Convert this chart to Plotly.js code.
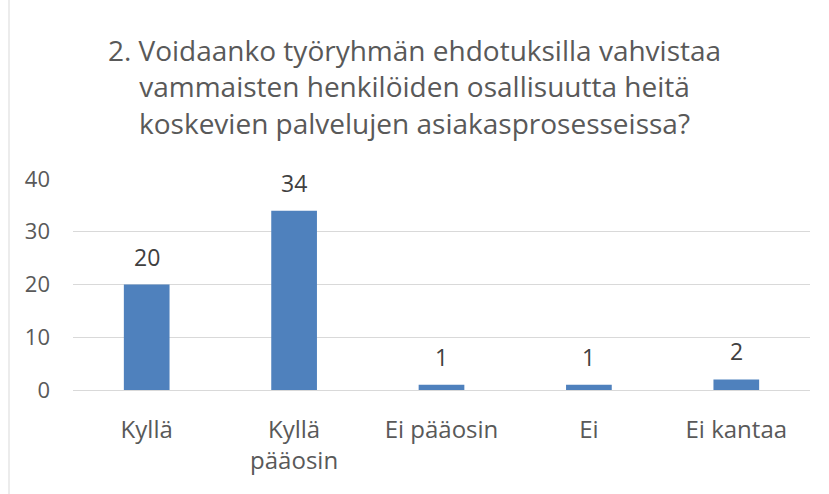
<!DOCTYPE html>
<html><head><meta charset="utf-8">
<script src="https://cdn.plot.ly/plotly-3.0.1.min.js"></script>
<style>html,body{margin:0;padding:0;background:#fff}#c{width:829px;height:494px}</style>
</head><body><div id="c"></div>
<script>
const categories = ["Kyllä", "Kyllä<br>pääosin", "Ei pääosin", "Ei", "Ei kantaa"];
const values = [20, 34, 1, 1, 2];
const yTicks = [0, 10, 20, 30, 40];
const titleText = "2. Voidaanko työryhmän ehdotuksilla vahvistaa<br>vammaisten henkilöiden osallisuutta heitä<br>koskevien palvelujen asiakasprosesseissa?";

const font = "'Open Sans', sans-serif";
const L = 73, R = 19, T = 179, B = 104, W = 829, H = 494;
const pw = W - L - R;
const ph = H - T - B;

const labels = categories.map((c, i) => ({
  x: c, y: values[i], xref: 'x', yref: 'y', text: String(values[i]),
  showarrow: false, yanchor: 'middle', yshift: 28,
  font: {family: font, size: 23, color: '#404040'}
}));

Plotly.newPlot('c', [{
  type: 'bar',
  x: categories,
  y: values,
  marker: {color: '#4f81bd'},
  hoverinfo: 'none'
}], {
  width: W, height: H,
  margin: {l: L, r: R, t: T, b: B, pad: 0},
  paper_bgcolor: '#fff', plot_bgcolor: '#fff',
  bargap: 0.69,
  showlegend: false,
  title: {text: titleText, font: {family: font, size: 28, color: '#595959'}, x: 0.5, xanchor: 'center', y: 1 - 61 / H, yanchor: 'middle', yref: 'container'},
  xaxis: {type: 'category', showgrid: false, zeroline: false, showline: false, ticks: '',
    tickfont: {family: font, size: 24, color: '#595959'}, ticklabelstandoff: 23},
  yaxis: {range: [0, 40], tickvals: yTicks, ticktext: yTicks.map(String), showgrid: true, gridcolor: '#d9d9d9', gridwidth: 1,
    zeroline: true, zerolinecolor: '#d9d9d9', zerolinewidth: 1, showline: false, ticks: '',
    tickfont: {family: font, size: 22, color: '#595959'}, ticklabelstandoff: 22},
  annotations: labels,
  shapes: [{type: 'rect', xref: 'paper', yref: 'paper',
    x0: (9 - L) / pw, x1: (W + 20 - L) / pw, y0: -(B + 20) / ph, y1: (H - B + 20) / ph,
    line: {color: '#d9d9d9', width: 1}, fillcolor: 'rgba(0,0,0,0)', layer: 'below'}]
}, {displayModeBar: false, staticPlot: true});
</script></body></html>
